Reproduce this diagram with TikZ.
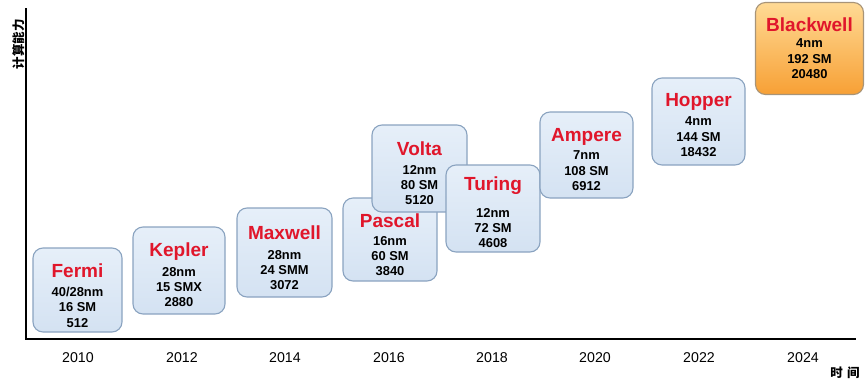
\documentclass[tikz,border=0pt]{standalone}
\usepackage{fontspec}
\setmainfont{Liberation Sans}
\newfontfamily\cjk{Noto Sans CJK SC}
\definecolor{boxtop}{HTML}{E6EFF9}
\definecolor{boxbot}{HTML}{D4E2F2}
\definecolor{boxedge}{HTML}{8AA3C0}
\definecolor{bwtop}{HTML}{FFDA95}
\definecolor{bwbot}{HTML}{F7A035}
\definecolor{bwedge}{HTML}{A89478}
\definecolor{titlered}{HTML}{E0162B}
\tikzset{
  gpubox/.style={draw=boxedge, line width=1.1pt, rounded corners=10pt, top color=boxtop, bottom color=boxbot, inner sep=0pt},
  bwbox/.style={gpubox, draw=bwedge, top color=bwtop, bottom color=bwbot},
  gputitle/.style={font=\bfseries\fontsize{19}{20}\selectfont, text=titlered, inner sep=0pt},
  gpubody/.style={font=\bfseries\fontsize{12.9}{15.4}\selectfont, align=center, inner sep=0pt},
  yearlbl/.style={font=\fontsize{14.2}{16}\selectfont, inner sep=0pt},
  axislbl/.style={font=\cjk\bfseries\fontsize{12.5}{14}\selectfont, inner sep=0pt},
  axisline/.style={line width=2.2pt, black}
}
% name, x1, y1, x2, y2, title, titleY, body, bodyY
\newcommand\gpucard[9]{%
  \node[gpubox, minimum width={#4-#2}, minimum height={#5-#3}] (#1) at ({(#2+#4)/2},{(#3+#5)/2}) {};
  \node[gputitle] (#1-t) at ({(#2+#4)/2},#7) {#6};
  \node[gpubody] (#1-b) at ({(#2+#4)/2},#9) {#8};
}
\begin{document}
\begin{tikzpicture}[x=1pt,y=-1pt]
\useasboundingbox (0,0) rectangle (865,389);
% axes
\coordinate (ytop) at (26,8);
\coordinate (xend) at (856,339);
\draw[axisline] (ytop) |- (xend);
\node[axislbl, rotate=90] (ylab) at (19,44) {计算能力};
\node[axislbl] (xlab) at (845,373) {时\hspace{0.35em}间};
% years
\node[yearlbl] (y2010) at (78,358) {2010};
\node[yearlbl] (y2012) at (182,358) {2012};
\node[yearlbl] (y2014) at (285,358) {2014};
\node[yearlbl] (y2016) at (389,358) {2016};
\node[yearlbl] (y2018) at (492,358) {2018};
\node[yearlbl] (y2020) at (595,358) {2020};
\node[yearlbl] (y2022) at (699,358) {2022};
\node[yearlbl] (y2024) at (803,358) {2024};
% cards
\gpucard{fermi}{33}{248}{122}{332}{Fermi}{271}{40/28nm\\16 SM\\512}{307}
\gpucard{kepler}{133}{227}{225}{314}{Kepler}{252}{28nm\\15 SMX\\2880}{287}
\gpucard{maxwell}{237}{208}{332}{297}{Maxwell}{233}{28nm\\24 SMM\\3072}{270}
\gpucard{pascal}{343}{198}{437}{281}{Pascal}{221}{16nm\\60 SM\\3840}{256}
\gpucard{volta}{372}{125}{467}{212}{Volta}{149}{12nm\\80 SM\\5120}{185}
\gpucard{turing}{446}{165}{540}{252}{Turing}{186}{12nm\\72 SM\\4608}{228}
\gpucard{ampere}{540}{112}{633}{198}{Ampere}{137}{7nm\\108 SM\\6912}{171}
\gpucard{hopper}{652}{78}{745}{165}{Hopper}{102}{4nm\\144 SM\\18432}{137}
\node[bwbox, minimum width=108, minimum height=92] (blackwell) at (809.5,48.5) {};
\node[gputitle] (blackwell-t) at (809.5,25) {Blackwell};
\node[gpubody] (blackwell-b) at (809.5,59) {4nm\\192 SM\\20480};
\end{tikzpicture}
\end{document}
